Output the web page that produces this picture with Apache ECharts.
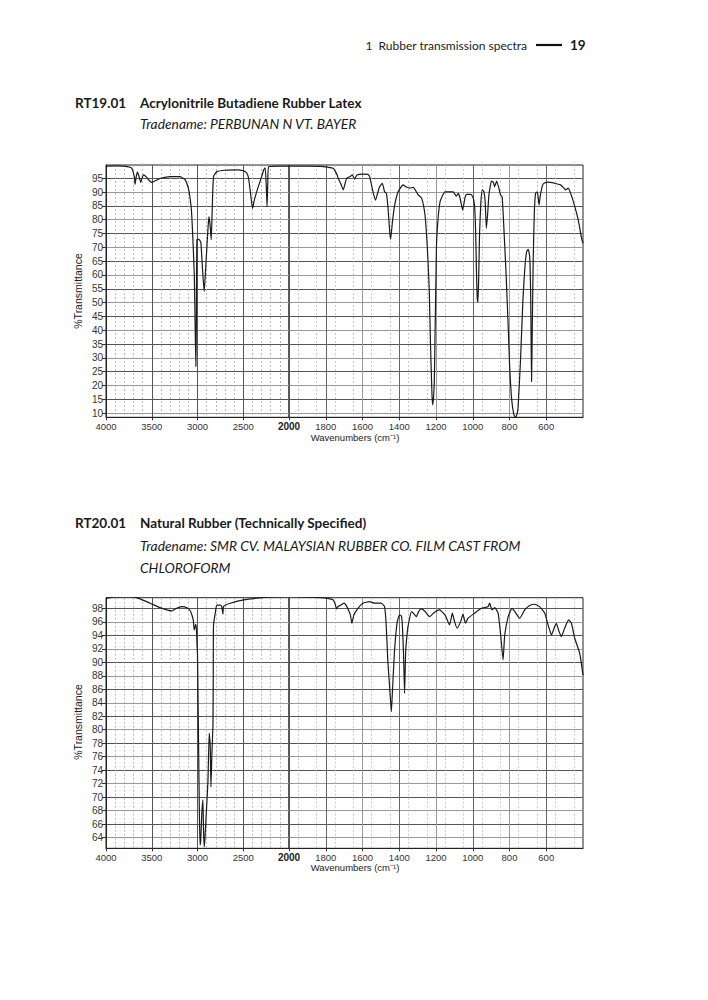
<!DOCTYPE html>
<html>
<head>
<meta charset="utf-8">
<style>
html,body{margin:0;padding:0;background:#fff;}
#c{width:708px;height:1000px;}
</style>
<script src="https://cdn.jsdelivr.net/npm/echarts@6/dist/echarts.min.js"></script>
</head>
<body>
<div id="c"></div>
<script>
// ---- RT19.01 Acrylonitrile Butadiene Rubber Latex ----
var nbrWavenumbers = [4000,3900,3800,3720,3690,3682,3670,3657,3640,3620,3605,3591,3560,3530,3499,3450,3400,3300,3190,3135,3100,3080,3065,3050,3035,3025,3018,3012,3007,2989,2975,2963,2945,2927,2915,2897,2885,2875,2862,2850,2838,2825,2788,2700,2568,2500,2459,2445,2434,2415,2398,2380,2340,2300,2277,2260,2248,2240,2232,2222,2100,2000,
 1900,1831,1790,1759,1740,1732,1715,1705,1695,1686,1668,1655,1643,1630,1598,1571,1561,1543,1529,1518,1507,1492,1480,1470,1461,1452,1447,1437,1425,1406,1379,1364,1343,1324,1297,1278,1260,1248,1237,1230,1222,1218,1213,1209,1205,1200,1196,1178,1151,1106,1090,1078,1068,1055,1042,1033,1010,998,990,984,980,976,972,968,963,956,948,939,932,926,919,912,905,899,888,881,870,858,849,840,831,818,807,799,788,776,767,758,753,740,727,716,707,698,690,685,682,680,676,671,665,658,649,644,639,634,630,620,612,590,567,545,522,505,495,481,470,450,426,408,400];
var nbrTransmittance = [99.4,99.5,99.4,98.7,95.5,92.8,95.5,97.2,95.8,93.5,95.2,96.2,95.5,94.3,93.5,94.3,95.0,95.6,95.6,94.4,91.4,87.5,82.9,72.7,60,40,26.9,45,72.7,73,72.5,71.7,62,54,60,70.3,77,81.1,78,72.7,85,95.6,97.4,97.9,98.0,97.7,96.8,95.5,93.2,88,84.1,87,91.5,95.5,98,98.8,92,84.7,93,99.2,99.4,99.4,
 99.4,99.3,99.0,98.6,96.5,95,92.5,90.8,93,95,95.6,96.2,94.7,96.2,96.5,96.4,95.6,90.1,87.1,89.5,91.9,93.2,90.1,89.6,84.1,75.7,73.0,79.3,85.3,90.1,92.6,91.9,91.4,91.7,89.0,87.8,81.7,70.9,55.2,35,17,13,16,22,38.9,60,73.3,86.5,90.1,90.1,88.5,89.5,87.5,83.5,88,89.2,89.2,88,85,75,62,52,50.2,58,75,86,90.8,90.1,86,76.9,82,89,92,94,93.5,91.9,94,91.4,89,88.3,77.5,59.4,41.3,26.8,14.8,9.4,8.6,10,12.4,29.3,51,63,68.4,69.3,66.6,53.4,34.1,21.4,41.3,65.4,82.3,89.6,90.1,88,85.3,88,89.6,92.5,93.2,93.6,93.4,93.0,92.6,91.5,90.8,91.4,90,86,79.9,73.3,71.5];
var nbrYTicks = [10,15,20,25,30,35,40,45,50,55,60,65,70,75,80,85,90,95];

// ---- RT20.01 Natural Rubber (Technically Specified) ----
var nrWavenumbers = [4000,3992,3900,3847,3737,3628,3518,3409,3281,3244,3171,3116,3080,3061,3045,3036,3025,3018,3010,3005,3000,2990,2980,2972,2965,2952,2941,2934,2927,2918,2905,2886,2872,2861,2853,2842,2831,2828,2825,2806,2790,2751,2735,2722,2715,2642,2496,2300,2130,2000,
 1900,1831,1790,1759,1748,1741,1733,1723,1701,1685,1666,1658,1647,1625,1598,1562,1535,1499,1480,1471,1462,1453,1443,1438,1426,1411,1398,1389,1383,1376,1371,1365,1356,1349,1334,1320,1307,1295,1280,1262,1235,1208,1181,1151,1126,1111,1099,1085,1066,1053,1040,1026,990,953,917,908,895,880,862,848,835,826,807,786,771,744,717,690,663,636,608,590,572,554,545,533,518,500,478,463,445,418,400];
var nrTransmittance = [99.5,99.52,99.7,99.76,99.76,99.42,98.78,98.12,97.63,97.93,98.27,98.12,97.7,97.04,96.2,94.81,95.4,95.66,94.5,92.5,91.1,80,68,62.9,63.5,67.8,69.6,65,62.6,64,67.3,72.3,79.5,77.7,71.5,76.7,80.7,88,95.56,97.3,98.5,98.5,98.3,97.15,98.3,98.78,99.27,99.6,99.76,99.8,
 99.7,99.61,99.5,99.27,98.6,97.93,98.3,98.43,98.78,98.27,97.04,95.81,97.04,98.03,98.78,99.02,98.78,98.78,98.27,95.56,90.1,86.65,82.68,85.16,91.6,96.05,97.04,96.94,95.56,90.6,85.4,91.6,94.56,95.81,97.53,97.2,96.79,97.53,97.93,97.63,96.79,97.44,97.78,97.04,95.56,97.3,96.05,95.07,96.05,97.15,95.81,96.55,97.3,98.03,98.27,98.78,97.78,98.12,97.3,94.07,90.36,94.07,96.79,98.03,97.53,96.55,97.78,98.43,98.63,98.27,97.3,95.56,94.07,95.32,95.81,94.81,93.82,95.07,96.3,95.81,93.58,91.35,88.13];
var nrYTicks = [64,66,68,70,72,74,76,78,80,82,84,86,88,90,92,94,96,98];

var xLabelsLeft = [4000,3500,3000,2500,2000];
var xLabelsRight = [1800,1600,1400,1200,1000,800,600];

function pairs(ws, ts, lo, hi) {
  var out = [];
  for (var i = 0; i < ws.length; i++) {
    if (ws[i] >= lo && ws[i] <= hi) out.push([ws[i], ts[i]]);
  }
  return out;
}

var chart = echarts.init(document.getElementById('c'), null, {renderer: 'svg'});

var FONT = 'Liberation Sans';
var panels = [
  {top: 165, height: 252.3, ymin: 8.5, ymax: 99.8, yTicks: nbrYTicks, ws: nbrWavenumbers, ts: nbrTransmittance},
  {top: 597.7, height: 250.6, ymin: 62.4, ymax: 99.6, yTicks: nrYTicks, ws: nrWavenumbers, ts: nrTransmittance}
];

var grids = [], xAxes = [], yAxes = [], series = [];
panels.forEach(function (p, pi) {
  // left part 4000-2000, right part 2000-400 (double scale)
  grids.push({left: 106, width: 183, top: p.top, height: p.height, show: true, borderColor: '#222', borderWidth: 1, containLabel: false});
  grids.push({left: 289, width: 294, top: p.top, height: p.height, show: true, borderColor: '#222', borderWidth: 1, containLabel: false});
  var gl = pi * 2, gr = pi * 2 + 1;
  xAxes.push({
    type: 'value', gridIndex: gl, min: 2000, max: 4000, interval: 500, inverse: true,
    axisLine: {show: true, lineStyle: {color: '#222', width: 1}},
    axisTick: {show: true, length: 3, lineStyle: {color: '#333'}},
    axisLabel: {
      fontFamily: FONT, fontSize: 9.5, color: '#333', margin: 4,
      customValues: xLabelsLeft,
      formatter: function (v) { return v === 2000 ? '{b|2000}' : String(v); },
      rich: {b: {fontFamily: FONT, fontSize: 10, fontWeight: 'bold', color: '#222'}}
    },
    splitLine: {show: true, lineStyle: {color: '#555', width: 1}},
    minorTick: {show: false, splitNumber: 5},
    minorSplitLine: {show: true, lineStyle: {color: '#aaa', width: 0.8, type: [2, 2]}}
  });
  xAxes.push({
    type: 'value', gridIndex: gr, min: 400, max: 2000, interval: 100, inverse: true,
    axisLine: {show: true, lineStyle: {color: '#222', width: 1}},
    axisTick: {show: true, length: 3, lineStyle: {color: '#333'}, customValues: [1800,1600,1400,1200,1000,800,600]},
    axisLabel: {
      fontFamily: FONT, fontSize: 9.5, color: '#333', margin: 4,
      formatter: function (v) { return xLabelsRight.indexOf(v) >= 0 ? String(v) : ''; }
    },
    splitLine: {show: true, lineStyle: {color: ['#666', '#999'], width: 1}},
    minorTick: {show: false, splitNumber: 2},
    minorSplitLine: {show: true, lineStyle: {color: '#bbb', width: 0.8, type: [2, 2]}}
  });
  var yCommon = {
    type: 'value', min: p.ymin, max: p.ymax,
    splitLine: {show: true, lineStyle: {color: ['#999', '#555'], width: 1}},
    axisTick: {show: true, length: 4, customValues: p.yTicks, lineStyle: {color: '#333'}}
  };
  yAxes.push(Object.assign({}, yCommon, {
    gridIndex: gl,
    axisLine: {show: true, lineStyle: {color: '#222'}},
    axisLabel: {show: true, customValues: p.yTicks, fontFamily: FONT, fontSize: 10, color: '#333', margin: 3}
  }));
  yAxes.push(Object.assign({}, yCommon, {
    gridIndex: gr,
    axisLine: {show: false},
    axisTick: {show: false, customValues: p.yTicks},
    axisLabel: {show: false, customValues: p.yTicks}
  }));
  var lineStyle = {color: '#1a1a1a', width: 1.2};
  series.push({type: 'line', xAxisIndex: gl, yAxisIndex: gl, data: pairs(p.ws, p.ts, 2000, 4000), showSymbol: false, smooth: 0.15, lineStyle: lineStyle, silent: true, z: 5});
  series.push({type: 'line', xAxisIndex: gr, yAxisIndex: gr, data: pairs(p.ws, p.ts, 400, 2000), showSymbol: false, smooth: 0.15, lineStyle: lineStyle, silent: true, z: 5});
});

var BODY = 'Lato';
function txt(x, y, s, opts) {
  var st = Object.assign({text: s, fontFamily: BODY, fontSize: 13, fill: '#1a1a1a', align: 'left', verticalAlign: 'middle'}, opts || {});
  return {type: 'text', x: x, y: y, style: st, z: 10};
}

var graphics = [
  txt(527, 45, '1  Rubber transmission spectra', {fontSize: 12, align: 'right', fill: '#222'}),
  {type: 'line', shape: {x1: 536, y1: 45, x2: 562, y2: 45}, style: {stroke: '#111', lineWidth: 2.2}},
  txt(570, 45, '19', {fontSize: 13.5, fontWeight: 'bold'}),

  txt(75, 103, 'RT19.01', {fontWeight: 'bold', fontSize: 13.5}),
  txt(140, 103, 'Acrylonitrile Butadiene Rubber Latex', {fontWeight: 'bold', fontSize: 13.5}),
  txt(140, 123, 'Tradename: PERBUNAN N VT. BAYER', {fontStyle: 'italic', fontSize: 13.8}),

  txt(75, 523, 'RT20.01', {fontWeight: 'bold', fontSize: 13.5}),
  txt(140, 523, 'Natural Rubber (Technically Specified)', {fontWeight: 'bold', fontSize: 13.5}),
  txt(140, 545, 'Tradename: SMR CV. MALAYSIAN RUBBER CO. FILM CAST FROM', {fontStyle: 'italic', fontSize: 13.8}),
  txt(140, 567, 'CHLOROFORM', {fontStyle: 'italic', fontSize: 13.8}),

  txt(355, 437, 'Wavenumbers (cm\u207B\u00B9)', {fontFamily: FONT, fontSize: 9.5, align: 'center', fill: '#222'}),
  txt(355, 867, 'Wavenumbers (cm\u207B\u00B9)', {fontFamily: FONT, fontSize: 9.5, align: 'center', fill: '#222'}),
  Object.assign(txt(78, 291, '%Transmittance', {fontFamily: FONT, fontSize: 10.5, align: 'center', fill: '#222'}), {rotation: Math.PI / 2}),
  Object.assign(txt(78, 722, '%Transmittance', {fontFamily: FONT, fontSize: 10.5, align: 'center', fill: '#222'}), {rotation: Math.PI / 2})
];

chart.setOption({
  animation: false,
  backgroundColor: '#fff',
  grid: grids,
  xAxis: xAxes,
  yAxis: yAxes,
  series: series,
  graphic: graphics
});
</script>
</body>
</html>
